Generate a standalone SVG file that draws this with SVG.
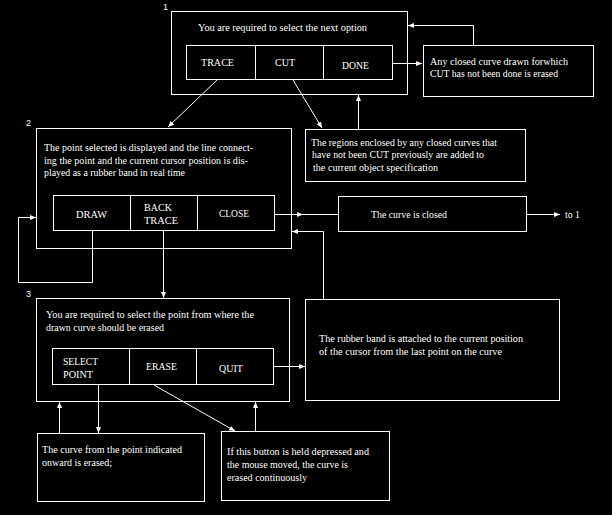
<svg xmlns="http://www.w3.org/2000/svg" width="612" height="515" viewBox="0 0 612 515">
<defs>
<marker id="ah" markerUnits="userSpaceOnUse" markerWidth="6" markerHeight="6" refX="6" refY="3" orient="auto">
<path d="M0,0.5 L6,3 L0,5.5 z" fill="#fff"/>
</marker>
<style>
.b{fill:none;stroke:#fff;stroke-width:1}
.c{fill:none;stroke:#fff;stroke-width:1;marker-end:url(#ah)}
.t{font-family:"Liberation Serif","Times New Roman",serif;font-size:10px;fill:#fff}
.m{font-family:"Liberation Serif","Times New Roman",serif;font-size:11px;fill:#fff}
.n{font-family:"Liberation Sans",Arial,sans-serif;font-size:9px;fill:#fff}
</style>
</defs>
<rect width="612" height="515" fill="#000"/>

<g id="node1">
<text class="n" x="163" y="10">1</text>
<rect class="b" x="171.5" y="11.5" width="236" height="83"/>
<text class="t" x="198" y="31" textLength="169" lengthAdjust="spacingAndGlyphs">You are required to select the next option</text>
<rect class="b" x="186.5" y="45.5" width="206" height="34"/>
<line class="b" x1="255.5" y1="45" x2="255.5" y2="80"/>
<line class="b" x1="323.5" y1="45" x2="323.5" y2="80"/>
<text class="m" x="201" y="66" textLength="33" lengthAdjust="spacingAndGlyphs">TRACE</text>
<text class="m" x="275" y="66" textLength="20" lengthAdjust="spacingAndGlyphs">CUT</text>
<text class="m" x="342" y="69" textLength="27" lengthAdjust="spacingAndGlyphs">DONE</text>
</g>

<g id="erased-note">
<rect class="b" x="423.5" y="45.5" width="170" height="51"/>
<text class="t" x="430" y="65" textLength="138" lengthAdjust="spacingAndGlyphs">Any closed curve drawn forwhich</text>
<text class="t" x="430" y="77" textLength="128" lengthAdjust="spacingAndGlyphs">CUT has not been done is erased</text>
</g>

<g id="node2">
<text class="n" x="26" y="126">2</text>
<rect class="b" x="36.5" y="128.5" width="255" height="120"/>
<text class="t" x="44" y="151" textLength="209" lengthAdjust="spacingAndGlyphs">The point selected is displayed and the line connect-</text>
<text class="t" x="44" y="163.5" textLength="204" lengthAdjust="spacingAndGlyphs">ing the point and the current cursor position is dis-</text>
<text class="t" x="44" y="176" textLength="141" lengthAdjust="spacingAndGlyphs">played as a rubber band in real time</text>
<rect class="b" x="53.5" y="195.5" width="221" height="35"/>
<line class="b" x1="130.5" y1="195" x2="130.5" y2="231"/>
<line class="b" x1="197.5" y1="195" x2="197.5" y2="231"/>
<text class="m" x="76" y="218" textLength="31" lengthAdjust="spacingAndGlyphs">DRAW</text>
<text class="m" x="144" y="211" textLength="28" lengthAdjust="spacingAndGlyphs">BACK</text>
<text class="m" x="144" y="224" textLength="34" lengthAdjust="spacingAndGlyphs">TRACE</text>
<text class="m" x="219" y="217" textLength="30" lengthAdjust="spacingAndGlyphs">CLOSE</text>
</g>

<g id="cut-note">
<rect class="b" x="305.5" y="129.5" width="220" height="52"/>
<text class="t" x="311" y="146" textLength="186" lengthAdjust="spacingAndGlyphs">The regions enclosed by any closed curves that</text>
<text class="t" x="312" y="158" textLength="172" lengthAdjust="spacingAndGlyphs">have not been CUT previously are added to</text>
<text class="t" x="313" y="171" textLength="125" lengthAdjust="spacingAndGlyphs">the current object specification</text>
</g>

<g id="closed-note">
<rect class="b" x="338.5" y="196.5" width="188" height="35"/>
<text class="t" x="371" y="218" textLength="76" lengthAdjust="spacingAndGlyphs">The curve is closed</text>
</g>

<g id="to1">
<text class="t" x="565" y="218" textLength="15" lengthAdjust="spacingAndGlyphs">to 1</text>
</g>

<g id="node3">
<text class="n" x="26" y="297">3</text>
<rect class="b" x="36.5" y="298.5" width="253" height="103"/>
<text class="t" x="46" y="318" textLength="208" lengthAdjust="spacingAndGlyphs">You are required to select the point from where the</text>
<text class="t" x="46" y="330.5" textLength="118" lengthAdjust="spacingAndGlyphs">drawn curve should be erased</text>
<rect class="b" x="52.5" y="348.5" width="221" height="36"/>
<line class="b" x1="129.5" y1="348" x2="129.5" y2="385"/>
<line class="b" x1="196.5" y1="348" x2="196.5" y2="385"/>
<text class="m" x="63" y="365" textLength="35" lengthAdjust="spacingAndGlyphs">SELECT</text>
<text class="m" x="63" y="378" textLength="30" lengthAdjust="spacingAndGlyphs">POINT</text>
<text class="m" x="146" y="370" textLength="31" lengthAdjust="spacingAndGlyphs">ERASE</text>
<text class="m" x="219" y="372" textLength="24" lengthAdjust="spacingAndGlyphs">QUIT</text>
</g>

<g id="rubber-note">
<rect class="b" x="305.5" y="299.5" width="254" height="101"/>
<text class="t" x="319" y="342" textLength="204" lengthAdjust="spacingAndGlyphs">The rubber band is attached to the current position</text>
<text class="t" x="319" y="355" textLength="183" lengthAdjust="spacingAndGlyphs">of the cursor from the last point on the curve</text>
</g>

<g id="select-note">
<rect class="b" x="37.5" y="433.5" width="167" height="68"/>
<text class="t" x="42" y="453" textLength="140" lengthAdjust="spacingAndGlyphs">The curve from the point indicated</text>
<text class="t" x="42" y="466" textLength="70" lengthAdjust="spacingAndGlyphs">onward is erased;</text>
</g>

<g id="erase-note">
<rect class="b" x="221.5" y="431.5" width="168" height="69"/>
<text class="t" x="227" y="455" textLength="142" lengthAdjust="spacingAndGlyphs">If this button is held depressed and</text>
<text class="t" x="227" y="468" textLength="121" lengthAdjust="spacingAndGlyphs">the mouse moved, the curve is</text>
<text class="t" x="227" y="481" textLength="80" lengthAdjust="spacingAndGlyphs">erased continuously</text>
</g>

<g id="connectors">
<line class="c" x1="217" y1="80" x2="168" y2="127"/>
<line class="c" x1="293" y1="80" x2="322" y2="128"/>
<line class="c" x1="393" y1="63.5" x2="422" y2="63.5"/>
<polyline class="c" points="473.5,45 473.5,25.5 408,25.5"/>
<line class="c" x1="358.5" y1="129" x2="358.5" y2="95"/>
<polyline class="c" points="92.5,231 92.5,282.5 18.5,282.5 18.5,217.5 36,217.5"/>
<line class="c" x1="163.5" y1="231" x2="163.5" y2="298"/>
<line class="c" x1="275" y1="214.5" x2="303" y2="214.5"/>
<line class="b" x1="303" y1="214.5" x2="338" y2="214.5"/>
<line class="c" x1="527" y1="214.5" x2="560" y2="214.5"/>
<polyline class="c" points="323.5,299 323.5,231.5 292,231.5"/>
<line class="c" x1="274" y1="366.5" x2="305" y2="366.5"/>
<line class="c" x1="98.5" y1="385" x2="98.5" y2="433"/>
<line class="c" x1="59.5" y1="433" x2="59.5" y2="402"/>
<line class="c" x1="154" y1="385" x2="235" y2="431"/>
<line class="c" x1="255.5" y1="431" x2="255.5" y2="402"/>
</g>
</svg>
